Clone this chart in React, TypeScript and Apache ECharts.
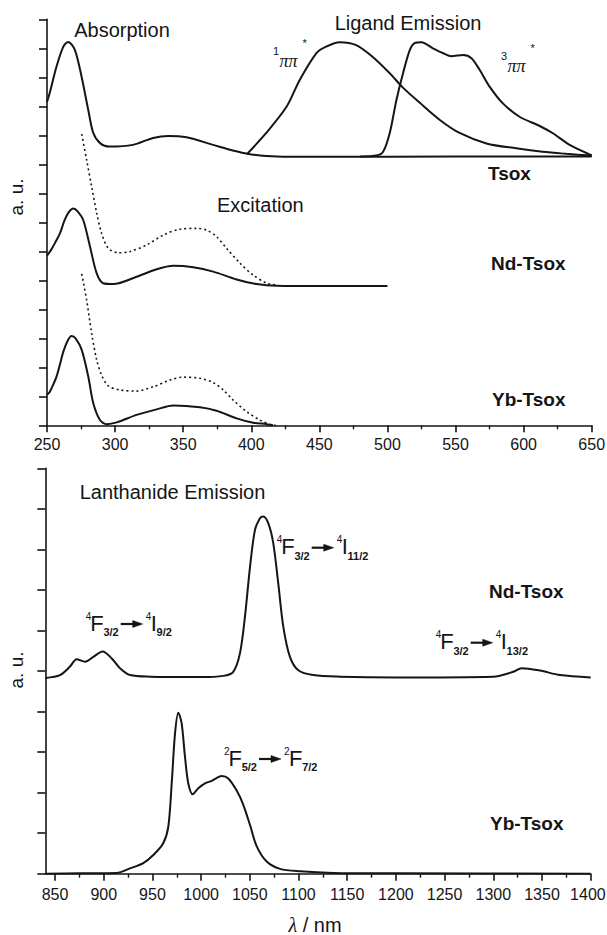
import React, { useEffect, useRef } from "react";
import * as echarts from "echarts";

// ---------- data (wavelength nm, intensity a.u.) ----------
// Top panel (y axis 0..14 a.u.)
const tsoxAbsorption: [number, number][] = [
  [250, 11.15], [252, 11.46], [257, 12.37], [262, 13.06], [265.6, 13.22], [270.5, 12.94],
  [275.4, 12.02], [280.3, 10.87], [284, 10.08], [289, 9.73], [296, 9.61], [313, 9.67],
  [328, 9.91], [339, 9.98], [352.5, 9.93], [372, 9.67], [387, 9.47], [397, 9.36],
  [411, 9.29], [436, 9.26], [500, 9.26], [600, 9.27], [650, 9.27],
];
const tsoxSingletEmission: [number, number][] = [
  [397, 9.36], [411, 10.08], [426, 10.99], [435.6, 11.91], [448, 12.84], [455, 13.06],
  [465, 13.21], [477, 13.11], [489, 12.71], [501.7, 12.14], [511, 11.66], [524, 11.11],
  [538.5, 10.53], [553, 10.08], [572.7, 9.72], [594.6, 9.55], [614, 9.43], [631.6, 9.36],
  [650, 9.3],
];
const tsoxTripletEmission: [number, number][] = [
  [480, 9.27], [492, 9.3], [496.8, 9.43], [501.7, 10.08], [506.6, 11.22], [511.5, 12.15],
  [516.4, 12.94], [520, 13.18], [525, 13.21], [533.4, 13.0], [541, 12.83], [547, 12.73],
  [555.6, 12.77], [561.7, 12.66], [567.8, 12.25], [575, 11.68], [584.8, 11.1], [597, 10.64],
  [611.8, 10.32], [621.5, 10.07], [633.8, 9.67], [650, 9.31],
];
const ndAbsorption: [number, number][] = [
  [250, 5.85], [253, 6.05], [256, 6.3], [259.5, 6.62], [263, 7.08], [266, 7.35], [269.3, 7.48],
  [272.5, 7.38], [276.6, 7.08], [281.6, 6.16], [286.5, 5.24], [291.3, 4.9], [298.7, 4.87],
  [315.8, 5.12], [330.5, 5.38], [342.7, 5.5], [357.4, 5.45], [372.1, 5.3], [389.2, 5.03],
  [403.9, 4.87], [418.6, 4.81], [450, 4.8], [500, 4.8],
];
const ndExcitation: [number, number][] = [
  [275.5, 10.04], [279.1, 9.15], [282.8, 8.23], [286.5, 7.31], [290.1, 6.62], [295, 6.1],
  [302.3, 5.95], [310.9, 5.99], [323.2, 6.22], [335.4, 6.56], [347.6, 6.76], [359.9, 6.79],
  [367.2, 6.73], [374.6, 6.5], [381.9, 6.1], [391.7, 5.59], [401.4, 5.18], [411.3, 4.9],
  [418.6, 4.84],
];
const ybAbsorption: [number, number][] = [
  [250, 1.05], [252, 1.15], [255, 1.45], [257, 1.68], [259.5, 2.1], [262, 2.54], [265, 2.9],
  [268, 3.08], [271, 3.0], [275.5, 2.6], [280.3, 1.68], [284, 0.76], [288.9, 0.18],
  [293.8, 0.04], [301.2, 0.1], [315.8, 0.36], [330.5, 0.55], [342.7, 0.68], [362.3, 0.62],
  [374.5, 0.5], [389.2, 0.24], [401.4, 0.09], [411.3, 0.04], [416, 0.0],
];
const ybExcitation: [number, number][] = [
  [275.5, 5.22], [279.1, 4.32], [282.8, 3.17], [286.5, 2.25], [290.1, 1.73], [295, 1.36],
  [303.6, 1.22], [315.8, 1.18], [328, 1.33], [340.3, 1.56], [350, 1.66], [362.3, 1.62],
  [372.1, 1.47], [379.4, 1.22], [386.7, 0.87], [396.6, 0.47], [406.3, 0.18], [413.7, 0.04],
  [418, 0.0],
];

// Bottom panel (y axis 0..10 a.u.)
const ndEmission: [number, number][] = [
  [840, 4.83], [855.1, 4.9], [865.4, 5.11], [872.2, 5.29], [880.8, 5.23], [889.3, 5.35],
  [898.9, 5.48], [908.2, 5.31], [916.7, 5.07], [927, 4.9], [947.5, 4.86], [1000, 4.85],
  [1022.7, 4.88], [1033, 4.98], [1039.9, 5.44], [1045, 6.34], [1050.2, 7.57], [1055.3, 8.48],
  [1060.4, 8.77], [1063.8, 8.81], [1069, 8.64], [1074.1, 8.15], [1079.2, 7.16], [1084.4, 6.09],
  [1091.2, 5.35], [1099.8, 5.02], [1115.2, 4.9], [1142.6, 4.86], [1200, 4.84], [1300, 4.86],
  [1320.5, 4.98], [1329.1, 5.07], [1348, 5.01], [1368.5, 4.9], [1400, 4.84],
];
const ybEmission: [number, number][] = [
  [840, 0.0], [875.6, 0.01], [913.3, 0.02], [927, 0.13], [940.6, 0.26], [950.9, 0.46],
  [961.1, 0.75], [966.3, 1.16], [969.8, 2.23], [973.2, 3.46], [976.6, 3.97], [980, 3.71],
  [983.4, 2.89], [986.8, 2.23], [991.3, 1.96], [997.1, 2.11], [1004, 2.23], [1010.8, 2.29],
  [1021.1, 2.41], [1027.9, 2.35], [1036.5, 2.05], [1043.3, 1.7], [1050.2, 1.2], [1057, 0.68],
  [1067.3, 0.3], [1081, 0.12], [1101.5, 0.06], [1135.7, 0.02], [1200, 0.01], [1400, 0.0],
];

// Axis ticks
const topMajorTicks = [250, 300, 350, 400, 450, 500, 550, 600, 650];
const topMinorTicks = [275, 325, 375, 425, 475, 525, 575, 625];
const bottomMajorTicks = [850, 900, 950, 1000, 1050, 1100, 1150, 1200, 1250, 1300, 1350, 1400];
const bottomMinorTicks = [875, 925, 975, 1025, 1075, 1125, 1175, 1225, 1275, 1325, 1375];

const FONT = '"Liberation Sans", Arial, Helvetica, sans-serif';
const SERIF = '"Liberation Serif", "DejaVu Serif", serif';
const INK = "#151515";

function txt(x: number, y: number, text: string, size: number, opts: any = {}) {
  const align = opts.align || "left";
  return {
    type: "text",
    x,
    y,
    rotation: opts.rotation || 0,
    silent: true,
    style: {
      text,
      fontSize: size,
      fontFamily: opts.family || FONT,
      fontWeight: opts.weight || "normal",
      fontStyle: opts.style || "normal",
      fill: INK,
      align,
      verticalAlign: "middle",
      textAlign: align,
      textVerticalAlign: "middle",
      rich: opts.rich,
    },
  };
}

function arrow(x1: number, x2: number, y: number) {
  return [
    { type: "line", silent: true, shape: { x1, y1: y, x2: x2 - 8, y2: y }, style: { stroke: INK, lineWidth: 2.2 } },
    {
      type: "polygon",
      silent: true,
      shape: { points: [[x2 - 10, y - 3.5], [x2, y], [x2 - 10, y + 3.5]] },
      style: { fill: INK, stroke: INK, lineWidth: 0.5 },
    },
  ];
}

function transition(xF: number, yc: number, s1: string, l1: string, b1: string, s2: string, l2: string, b2: string) {
  const w = (l: string) => (l === "F" ? 13.4 : 6.1);
  const els: any[] = [];
  els.push(txt(xF - 0.5, yc - 7, s1, 10, { align: "right" }));
  els.push(txt(xF - 1.5, yc, l1, 22));
  els.push(txt(xF - 1.5 + w(l1) - 0.2, yc + 9, b1, 11, { weight: "bold" }));
  els.push(...arrow(xF + 29, xF + 51, yc + 1));
  els.push(txt(xF + 59.5, yc - 7, s2, 10, { align: "right" }));
  els.push(txt(xF + 59, yc, l2, 22));
  els.push(txt(xF + 59 + w(l2) - 0.2, yc + 9, b2, 11, { weight: "bold" }));
  return els;
}

function piLabel(x: number, y: number, sup: string) {
  return [
    txt(x - 0.5, y - 10, sup, 11, { align: "right" }),
    txt(x, y, "ππ", 18, { family: SERIF, style: "italic" }),
    txt(x + 23, y - 18, "*", 11),
  ];
}

const lineSeries = (data: [number, number][], grid: number, dotted = false) => ({
  type: "line",
  data,
  xAxisIndex: grid === 0 ? 0 : 2,
  yAxisIndex: grid,
  showSymbol: false,
  symbol: "none",
  smooth: 0.3,
  lineStyle: dotted
    ? { color: INK, width: 1.6, type: [2, 3] }
    : { color: INK, width: 2 },
  silent: true,
});

const axisLine = { show: true, lineStyle: { color: INK, width: 1.6 } };

function majorX(grid: number, min: number, max: number, ticks: number[], margin: number) {
  return {
    gridIndex: grid,
    type: "value",
    min,
    max,
    axisLine,
    axisTick: { show: true, length: 7, lineStyle: { color: INK, width: 1.6 }, customValues: ticks },
    axisLabel: {
      color: INK,
      fontSize: 16,
      fontFamily: FONT,
      margin,
      customValues: ticks,
      // the last label of the lower axis is kept inside the page edge
      formatter: (v: number) => (v === 1400 ? "{edge|" + v + "}" : String(v)),
      rich: { edge: { fontSize: 16, fontFamily: FONT, color: INK, width: 30, align: "right" } },
    },
    splitLine: { show: false },
  };
}
function minorX(grid: number, min: number, max: number, ticks: number[]) {
  return {
    gridIndex: grid,
    type: "value",
    position: "bottom",
    min,
    max,
    axisLine: { show: false },
    axisTick: { show: true, length: 4, lineStyle: { color: INK, width: 1.4 }, customValues: ticks },
    axisLabel: { show: false },
    splitLine: { show: false },
  };
}

export default function App() {
  const ref = useRef<HTMLDivElement>(null);
  useEffect(() => {
    if (!ref.current) return;
    const chart = echarts.init(ref.current, null, { renderer: "svg" });
    const option: any = {
      animation: false,
      backgroundColor: "#ffffff",
      grid: [
        { left: 47, top: 19.3, width: 544.7, height: 406, containLabel: false, outerBoundsMode: "none" },
        { left: 45.3, top: 468.3, width: 545.4, height: 405.4, containLabel: false, outerBoundsMode: "none" },
      ],
      xAxis: [
        majorX(0, 250, 650, topMajorTicks, 11),
        minorX(0, 250, 650, topMinorTicks),
        majorX(1, 840, 1400, bottomMajorTicks, 13),
        minorX(1, 840, 1400, bottomMinorTicks),
      ],
      yAxis: [
        {
          gridIndex: 0,
          type: "value",
          min: 0,
          max: 14,
          interval: 1,
          axisLine,
          axisTick: { show: true, length: 8, lineStyle: { color: INK, width: 1.6 } },
          axisLabel: { show: false },
          splitLine: { show: false },
        },
        {
          gridIndex: 1,
          type: "value",
          min: 0,
          max: 10,
          interval: 1,
          axisLine,
          axisTick: { show: true, length: 8, lineStyle: { color: INK, width: 1.6 } },
          axisLabel: { show: false },
          splitLine: { show: false },
        },
      ],
      series: [
        lineSeries(tsoxAbsorption, 0),
        lineSeries(tsoxSingletEmission, 0),
        lineSeries(tsoxTripletEmission, 0),
        lineSeries(ndAbsorption, 0),
        lineSeries(ndExcitation, 0, true),
        lineSeries(ybAbsorption, 0),
        lineSeries(ybExcitation, 0, true),
        lineSeries(ndEmission, 1),
        lineSeries(ybEmission, 1),
      ],
      graphic: [
        txt(122, 30, "Absorption", 20, { align: "center" }),
        txt(408, 23, "Ligand Emission", 20, { align: "center" }),
        txt(217, 205, "Excitation", 20),
        txt(488, 173, "Tsox", 19, { weight: "bold" }),
        txt(491, 263.5, "Nd-Tsox", 19, { weight: "bold" }),
        txt(492, 399, "Yb-Tsox", 19, { weight: "bold" }),
        ...piLabel(279.5, 61, "1"),
        ...piLabel(507.5, 66, "3"),
        txt(16, 197, "a. u.", 19, { align: "center", rotation: Math.PI / 2 }),
        txt(172.5, 492, "Lanthanide Emission", 20, { align: "center" }),
        txt(489, 591, "Nd-Tsox", 19, { weight: "bold" }),
        txt(490, 823.5, "Yb-Tsox", 19, { weight: "bold" }),
        ...transition(91.7, 623, "4", "F", "3/2", "4", "I", "9/2"),
        ...transition(282.7, 546.7, "4", "F", "3/2", "4", "I", "11/2"),
        ...transition(441.7, 641.7, "4", "F", "3/2", "4", "I", "13/2"),
        ...transition(230, 758, "2", "F", "5/2", "2", "F", "7/2"),
        txt(16, 670, "a. u.", 19, { align: "center", rotation: Math.PI / 2 }),
        txt(315, 925, "{l|λ} / nm", 20, {
          align: "center",
          rich: { l: { fontStyle: "italic", fontSize: 20, fontFamily: SERIF, fill: INK } },
        }),
      ],
    };
    chart.setOption(option);
    return () => chart.dispose();
  }, []);
  return (
    <div
      ref={ref}
      style={{ position: "fixed", left: 0, top: 0, width: 607, height: 935, background: "#fff" }}
    />
  );
}
